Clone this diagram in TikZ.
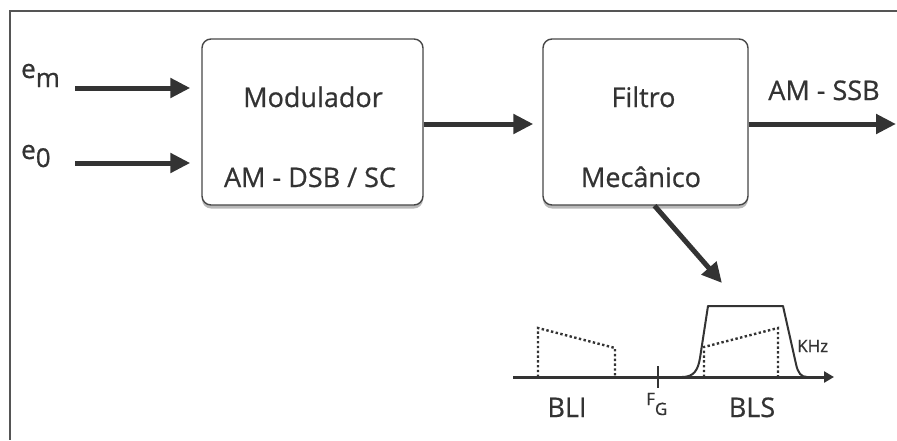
\documentclass[tikz,border=0pt]{standalone}
\usepackage{fontspec}
\setmainfont{Open Sans}[FakeBold=0.7]
\usetikzlibrary{arrows.meta,shadows}
\definecolor{ink}{HTML}{333333}
\definecolor{frame}{HTML}{555555}
\begin{document}
\begin{tikzpicture}[x=1pt,y=-1pt,
  box/.style={draw=ink!90, line width=1.4pt, rounded corners=9pt, fill=white,
    drop shadow={shadow xshift=0pt,shadow yshift=-3.5pt,opacity=0.55},
    inner sep=0pt, minimum height=166pt},
  lbl/.style={text=ink, font=\fontsize{27}{30}\selectfont, inner sep=0pt, anchor=base},
  small/.style={text=ink, font=\fontsize{17}{20}\selectfont, inner sep=0pt, anchor=base},
  big/.style={line width=5pt, draw=ink, -{Triangle[length=20pt,width=19pt]}},
  dotl/.style={line width=2.4pt, draw=ink, dash pattern=on 2.4pt off 2.4pt},
  solidl/.style={line width=2pt, draw=ink}
]
\useasboundingbox (0,0) rectangle (897,440);
% frame
\draw[frame, line width=2pt] (897,11) -- (10,11) -- (10,440);

% boxes
\node[box, minimum width=221pt] (mod) at (312.5,122) {};
\node[box, minimum width=205pt] (filt) at (645.5,122) {};

% box texts
\node[lbl] (modt) at (313,107) {Modulador};
\node[lbl] (modb) at (310,187) {AM - DSB / SC};
\node[lbl] (filtt) at (643.5,107) {Filtro};
\node[lbl] (filtb) at (641,187) {Mecânico};

% inputs
\node[lbl, anchor=base west, font=\fontsize{26}{30}\selectfont] (em) at (21,78) {e\raisebox{-9pt}{m}};
\node[lbl, anchor=base west, font=\fontsize{26}{30}\selectfont] (e0) at (21,159) {e\raisebox{-8pt}{0}};
\coordinate (emS) at (75,88);
\coordinate (e0S) at (75,163);
\draw[big, shorten >=11pt] (emS) -- (mod.west |- emS);
\draw[big, shorten >=11pt] (e0S) -- (mod.west |- e0S);

% between boxes
\draw[big, shorten >=9pt] (mod.east |- 0,124) -- (filt.west |- 0,124);

% output
\coordinate (outE) at (896,124);
\draw[big] (filt.east |- outE) -- (outE);
\node[lbl] (ssb) at (824,100) {AM - SSB};

% diagonal arrow
\coordinate (diagE) at (722,283);
\draw[big] ([xshift=9pt]filt.south) -- (diagE);

% spectrum
\coordinate (axS) at (513,377);
\coordinate (axE) at (834,377);
\draw[line width=3pt, draw=ink, -{Triangle[length=10pt,width=11pt]}] (axS) -- (axE);
\coordinate (fgT) at (658,366);
\coordinate (fgB) at (658,388);
\draw[solidl] (fgT) -- (fgB);
% BLI dotted
\draw[dotl] (538,377) -- (538,328) -- (615,348) -- (615,377);
% BLS dotted
\draw[dotl] (704,377) -- (704,347) -- (778,328) -- (778,377);
% filter response
\draw[solidl, line join=round] (682,377) .. controls (694,377) and (698,370) .. (700,358)
  -- (708,306) -- (783,306) -- (796,364) .. controls (798,373) and (801,377) .. (807,377);

\node[lbl] (bli) at (567,417) {BLI};
\node[lbl] (bls) at (752,417) {BLS};
\node[small, anchor=base west] (fg) at (646,405) {F\raisebox{-10pt}{G}};
\node[small, anchor=base west] (khz) at (797,352) {KHz};
\end{tikzpicture}
\end{document}
